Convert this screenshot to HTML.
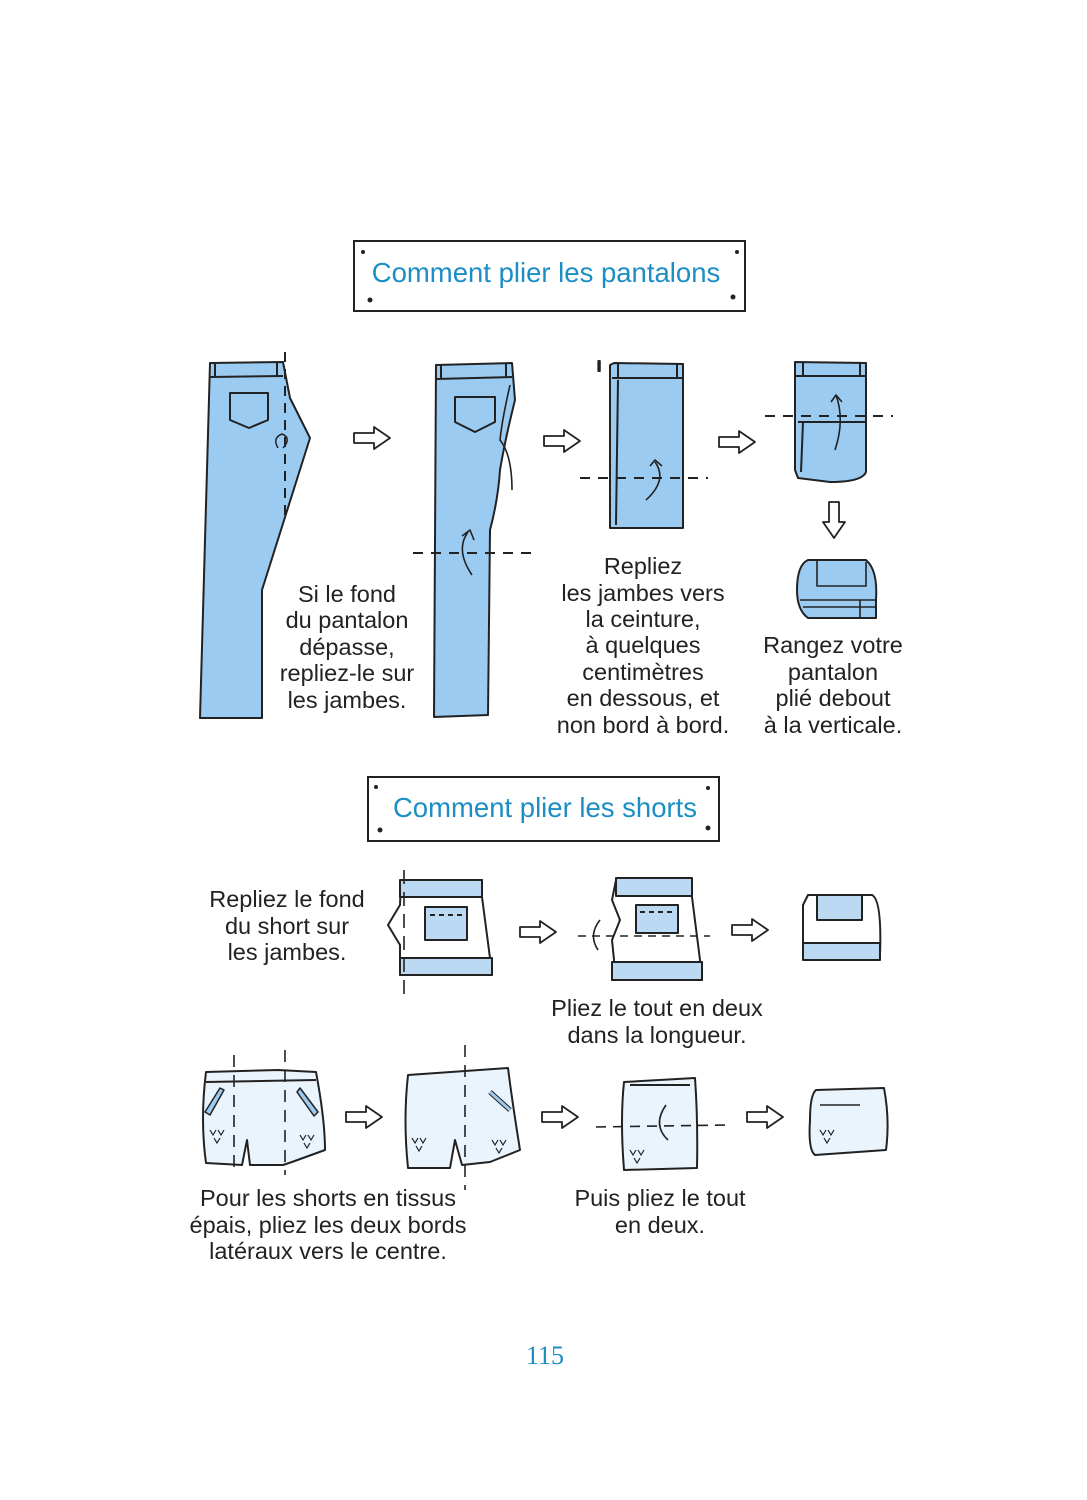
<!DOCTYPE html>
<html><head><meta charset="utf-8"><style>
html,body{margin:0;padding:0;background:#fff;}
svg{display:block;}
text{font-family:"Liberation Sans",sans-serif;fill:#222;}
.t{font-size:23.5px;text-anchor:middle;}
.h{font-size:27.5px;fill:#1b8ec4;text-anchor:middle;}
</style></head><body>
<svg width="1087" height="1500" viewBox="0 0 1087 1500" xmlns="http://www.w3.org/2000/svg">
<defs>
<g id="arr"><path d="M-18,-5 L2,-5 L2,-11 L18,0 L2,11 L2,5 L-18,5 Z" fill="#fff" stroke="#222" stroke-width="1.8" stroke-linejoin="round"/></g>
<g id="vv"><path d="M0,0 L3,5 L6,0 M8,0 L11,5 L14,0 M4,8 L7,13 L10,8" fill="none" stroke="#222" stroke-width="1.2"/></g>
</defs>
<g stroke="#222" stroke-width="2" fill="none">
<rect x="354" y="241" width="391" height="70" fill="#fff"/>
<rect x="368" y="777" width="351" height="64" fill="#fff"/>
</g>
<g fill="#222"><circle cx="363" cy="252" r="2"/><circle cx="737" cy="252" r="2"/><circle cx="370" cy="300" r="2.5"/><circle cx="733" cy="297" r="2.5"/>
<circle cx="376" cy="787" r="2"/><circle cx="708" cy="788" r="2"/><circle cx="380" cy="830" r="2.5"/><circle cx="708" cy="828" r="2.5"/></g>
<text class="h" x="546" y="282">Comment plier les pantalons</text>
<text class="h" x="545" y="817">Comment plier les shorts</text>

<g stroke="#222" stroke-width="2" stroke-linejoin="round">
<path d="M210,363 L283,362 L290,398 L310,438 L262,590 L262,718 L200,718 Z" fill="#9ccbf2"/>
<path d="M210,377 L283,376 M215,363 L215,377 M277,362 L277,376" fill="none"/>
<path d="M230,393 L268,393 L268,420 L249,428 L230,420 Z" fill="none"/>
<path d="M285,352 L285,520" fill="none" stroke-dasharray="10,7"/>
<path d="M278,448 Q272,438 282,434 Q292,438 283,448" fill="none" stroke-width="1.5"/>
<path d="M436,365 L512,363 L515,400 Q505,440 500,470 Q498,500 490,530 L488,715 L434,717 Z" fill="#9ccbf2"/>
<path d="M436,379 L512,377 M441,365 L441,379 M506,363 L506,377" fill="none"/>
<path d="M455,397 L495,397 L495,422 L475,432 L455,422 Z" fill="none"/>
<path d="M510,385 Q502,420 500,440 Q512,455 512,490" fill="none" stroke-width="1.6"/>
<path d="M413,553 L533,553" stroke-dasharray="10,8" fill="none"/>
<path d="M472,575 Q455,550 468,532 M462,536 L470,530 L474,540" fill="none" stroke-width="1.6"/>
<path d="M614,363 L683,364 L683,528 L610,528 L610,365 Z" fill="#9ccbf2"/>
<path d="M612,378 L683,378 M618,364 L618,378 M677,364 L677,378 M618,380 L616,525" fill="none"/>
<path d="M580,478 L708,478" stroke-dasharray="10,8" fill="none"/>
<path d="M646,500 Q668,480 655,462 M650,466 L655,460 L662,466" fill="none" stroke-width="1.6"/>
<text x="597" y="371" style="font-size:15px">I</text>
<path d="M795,362 L866,363 L866,472 Q862,482 830,482 L798,478 L795,470 Z" fill="#9ccbf2"/>
<path d="M795,376 L866,376 M803,362 L803,376 M860,363 L860,376 M798,422 L866,422 M803,422 L801,472" fill="none"/>
<path d="M765,416 L893,416" stroke-dasharray="10,8" fill="none"/>
<path d="M835,450 Q845,420 836,395 M831,402 L836,395 L842,402" fill="none" stroke-width="1.6"/>
<path d="M808,560 L866,560 Q878,570 876,600 L876,618 L808,618 Q797,610 797,590 Q797,565 808,560 Z" fill="#9ccbf2"/>
<path d="M817,560 L817,586 L866,586 L866,562 M800,600 L876,600 M803,607 L876,607 M860,600 L860,618" fill="none" stroke-width="1.6"/>
</g>
<use href="#arr" x="372" y="438"/>
<use href="#arr" x="562" y="441"/>
<use href="#arr" x="737" y="442"/>
<use href="#arr" transform="translate(834,520) rotate(90)"/>

<text class="t" x="347" y="602">Si le fond</text>
<text class="t" x="347" y="628">du pantalon</text>
<text class="t" x="347" y="655">dépasse,</text>
<text class="t" x="347" y="681">repliez-le sur</text>
<text class="t" x="347" y="708">les jambes.</text>
<text class="t" x="643" y="574">Repliez</text>
<text class="t" x="643" y="601">les jambes vers</text>
<text class="t" x="643" y="627">la ceinture,</text>
<text class="t" x="643" y="653">à quelques</text>
<text class="t" x="643" y="680">centimètres</text>
<text class="t" x="643" y="706">en dessous, et</text>
<text class="t" x="643" y="733">non bord à bord.</text>
<text class="t" x="833" y="653">Rangez votre</text>
<text class="t" x="833" y="680">pantalon</text>
<text class="t" x="833" y="706">plié debout</text>
<text class="t" x="833" y="733">à la verticale.</text>

<g stroke="#222" stroke-width="2" stroke-linejoin="round">
<path d="M401,880 L482,880 L482,897 L490,958 L492,975 L400,975 L400,945 L388,925 L400,905 Z" fill="#fff"/>
<rect x="400" y="880" width="82" height="17" fill="#bcd9f4"/>
<rect x="400" y="958" width="92" height="17" fill="#bcd9f4"/>
<rect x="425" y="907" width="42" height="33" fill="#bcd9f4"/>
<path d="M430,915 L462,915" stroke-dasharray="5,4" fill="none"/>
<path d="M404,870 L404,998" stroke-dasharray="14,8" fill="none" stroke-width="1.6"/>
<path d="M616,880 L692,880 L692,897 L700,960 L702,980 L612,980 L614,960 L612,940 L620,920 L612,900 Z" fill="#fff"/>
<rect x="616" y="878" width="76" height="18" fill="#bcd9f4"/>
<rect x="612" y="962" width="90" height="18" fill="#bcd9f4"/>
<rect x="636" y="905" width="42" height="28" fill="#bcd9f4"/>
<path d="M640,912 L674,912" stroke-dasharray="5,4" fill="none"/>
<path d="M578,936 L710,936" stroke-dasharray="8,6" fill="none" stroke-width="1.6"/>
<path d="M600,920 Q588,935 598,950" fill="none" stroke-width="1.6"/>
<path d="M808,895 L872,895 Q882,900 880,955 L808,960 Q803,955 803,940 L803,905 Z" fill="#fff"/>
<rect x="817" y="895" width="45" height="25" fill="#bcd9f4"/>
<rect x="803" y="943" width="77" height="17" fill="#bcd9f4"/>
</g>
<use href="#arr" x="538" y="932"/>
<use href="#arr" x="750" y="930"/>
<text class="t" x="287" y="907">Repliez le fond</text>
<text class="t" x="287" y="934">du short sur</text>
<text class="t" x="287" y="960">les jambes.</text>
<text class="t" x="657" y="1016">Pliez le tout en deux</text>
<text class="t" x="657" y="1043">dans la longueur.</text>

<g stroke="#222" stroke-width="2" stroke-linejoin="round">
<path d="M206,1072 L278,1070 L316,1072 Q325,1120 325,1150 L292,1162 L283,1165 L250,1165 L247,1140 L242,1165 L206,1163 Q200,1120 206,1072 Z" fill="#eaf4fc"/>
<path d="M206,1082 L316,1080" fill="none"/>
<path d="M205,1112 L220,1088 L224,1090 L210,1115 Z M300,1088 L318,1112 L314,1116 L297,1092 Z" fill="#9ccbf2" stroke-width="1.5"/>
<path d="M234,1055 L234,1175 M285,1050 L285,1175" stroke-dasharray="12,8" fill="none" stroke-width="1.6"/>
<path d="M408,1075 L508,1068 Q512,1100 520,1150 L490,1162 L462,1165 L455,1140 L450,1168 L408,1168 Q403,1120 408,1075 Z" fill="#eaf4fc"/>
<path d="M490,1092 L510,1110" stroke="#222" stroke-width="5" fill="none"/>
<path d="M490,1092 L510,1110" stroke="#9ccbf2" stroke-width="3" fill="none"/>
<path d="M465,1045 L465,1190" stroke-dasharray="12,8" fill="none" stroke-width="1.6"/>
<path d="M624,1082 L695,1078 Q698,1120 697,1168 L624,1170 Q620,1120 624,1082 Z" fill="#eaf4fc"/>
<path d="M630,1085 L690,1085" fill="none"/>
<path d="M596,1127 L726,1125" stroke-dasharray="10,7" fill="none" stroke-width="1.6"/>
<path d="M666,1105 Q652,1125 668,1140" fill="none" stroke-width="1.6"/>
<path d="M816,1090 L884,1088 Q890,1120 886,1150 L815,1155 Q808,1150 810,1120 Q810,1095 816,1090 Z" fill="#eaf4fc"/>
<path d="M820,1105 L860,1105" fill="none" stroke-width="1.6"/>
</g>
<use href="#vv" x="210" y="1130"/><use href="#vv" x="300" y="1135"/>
<use href="#vv" x="412" y="1138"/><use href="#vv" x="492" y="1140"/>
<use href="#vv" x="630" y="1150"/><use href="#vv" x="820" y="1130"/>
<use href="#arr" x="364" y="1117"/>
<use href="#arr" x="560" y="1117"/>
<use href="#arr" x="765" y="1117"/>
<text class="t" x="328" y="1206">Pour les shorts en tissus</text>
<text class="t" x="328" y="1233">épais, pliez les deux bords</text>
<text class="t" x="328" y="1259">latéraux vers le centre.</text>
<text class="t" x="660" y="1206">Puis pliez le tout</text>
<text class="t" x="660" y="1233">en deux.</text>

<text x="545" y="1364" style="font-family:'Liberation Serif',serif;font-size:26px;fill:#1b8ec4;text-anchor:middle">115</text>
</svg>
</body></html>
